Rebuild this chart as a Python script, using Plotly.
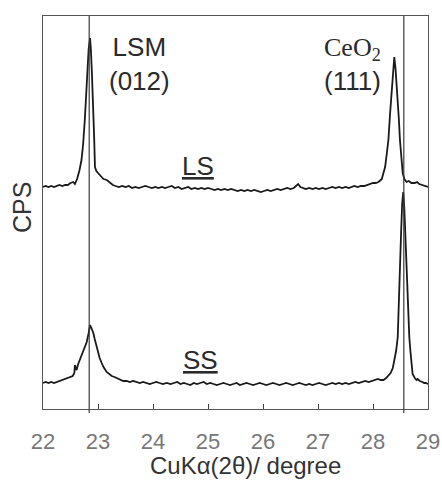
import plotly.graph_objects as go

# ---- data (arbitrary CPS units) ----
ls_x = [22.00, 22.05, 22.10, 22.15, 22.20, 22.25, 22.30, 22.35, 22.40, 22.45, 22.50, 22.55, 22.58, 22.62,
        22.66, 22.70, 22.73, 22.76, 22.78, 22.805, 22.83, 22.855, 22.87, 22.89, 22.90, 22.915, 22.93, 22.945,
        22.97, 23.00, 23.05, 23.10, 23.16, 23.22, 23.27, 23.32, 23.38, 23.44, 23.50, 23.56, 23.62, 23.68,
        23.74, 23.80, 23.86, 23.92, 23.98, 24.04, 24.10, 24.16, 24.22, 24.28, 24.34, 24.40, 24.46, 24.52,
        24.58, 24.64, 24.70, 24.76, 24.82, 24.88, 24.94, 25.00, 25.06, 25.12, 25.18, 25.24, 25.30, 25.36,
        25.42, 25.48, 25.54, 25.60, 25.66, 25.72, 25.78, 25.84, 25.90, 25.96, 26.02, 26.08, 26.14, 26.20,
        26.26, 26.32, 26.38, 26.44, 26.50, 26.56, 26.60, 26.64, 26.68, 26.72, 26.78, 26.84, 26.90, 26.96,
        27.02, 27.08, 27.14, 27.20, 27.26, 27.32, 27.38, 27.44, 27.50, 27.56, 27.62, 27.66, 27.72, 27.78,
        27.84, 27.90, 27.95, 28.00, 28.05, 28.10, 28.14, 28.16, 28.19, 28.22, 28.25, 28.28, 28.31, 28.34,
        28.36, 28.387, 28.41, 28.44, 28.47, 28.49, 28.52, 28.54, 28.57, 28.61, 28.65, 28.70, 28.76, 28.80,
        28.84, 28.90, 28.95, 29.00]
ls_y = [222, 223, 222, 223, 222, 223, 224, 223, 224, 224, 226, 227, 225, 230,
        238, 249, 265, 289, 312, 339, 360, 371, 360, 335, 322, 296, 272, 242,
        238, 236, 233, 230, 229, 226, 224, 223, 222, 223, 222, 223, 221, 222,
        221, 222, 223, 222, 221, 222, 221, 222, 221, 222, 223, 221, 222, 220,
        221, 222, 220, 221, 220, 221, 220, 221, 220, 219, 220, 219, 220, 219,
        220, 219, 218, 219, 218, 219, 218, 219, 218, 217, 218, 219, 218, 219,
        220, 219, 220, 221, 220, 221, 223, 225, 222, 221, 220, 221, 220, 221,
        220, 221, 220, 221, 222, 221, 222, 221, 222, 221, 222, 223, 222, 223,
        223, 224, 225, 226, 226, 227, 229, 230, 236, 242, 255, 269, 295, 319,
        338, 352, 340, 319, 290, 269, 250, 236, 230, 227, 228, 226, 226, 227,
        225, 224, 223, 222]

ss_x = [22.00, 22.05, 22.10, 22.15, 22.20, 22.25, 22.30, 22.35, 22.40, 22.45, 22.50, 22.54, 22.57, 22.58,
        22.60, 22.61, 22.64, 22.67, 22.70, 22.73, 22.76, 22.795, 22.83, 22.855, 22.88, 22.915, 22.94, 22.976,
        23.00, 23.03, 23.067, 23.10, 23.158, 23.20, 23.25, 23.30, 23.34, 23.40, 23.46, 23.52, 23.58, 23.64,
        23.70, 23.76, 23.82, 23.88, 23.94, 24.00, 24.06, 24.12, 24.18, 24.25, 24.32, 24.38, 24.44, 24.50,
        24.56, 24.62, 24.68, 24.74, 24.80, 24.86, 24.92, 24.98, 25.04, 25.10, 25.16, 25.22, 25.28, 25.34,
        25.40, 25.46, 25.52, 25.58, 25.64, 25.70, 25.76, 25.82, 25.88, 25.94, 26.00, 26.06, 26.12, 26.18,
        26.24, 26.30, 26.36, 26.42, 26.48, 26.54, 26.60, 26.66, 26.72, 26.78, 26.84, 26.90, 26.96, 27.02,
        27.08, 27.14, 27.20, 27.26, 27.32, 27.38, 27.44, 27.50, 27.56, 27.62, 27.68, 27.74, 27.80, 27.86,
        27.92, 27.98, 28.04, 28.09, 28.14, 28.19, 28.24, 28.28, 28.32, 28.36, 28.39, 28.42, 28.45, 28.47,
        28.49, 28.51, 28.53, 28.55, 28.57, 28.59, 28.613, 28.63, 28.66, 28.68, 28.705, 28.72, 28.76, 28.79,
        28.81, 28.85, 28.90, 28.93, 28.96, 29.00]
ss_y = [26, 27, 26, 27, 26, 27, 28, 29, 30, 31, 32, 33, 36, 44,
        40, 39, 45, 49, 54, 58, 62, 67, 76, 84, 81, 76, 70, 62,
        56, 51, 46, 42, 37, 35, 33, 32, 31, 30, 28, 28, 27, 28,
        27, 26, 27, 26, 25, 26, 27, 26, 25, 26, 25, 26, 27, 25,
        26, 25, 24, 26, 25, 26, 27, 25, 26, 25, 24, 25, 26, 25,
        24, 25, 26, 24, 25, 26, 25, 24, 25, 26, 25, 24, 25, 26,
        25, 24, 25, 26, 25, 24, 25, 26, 25, 24, 25, 24, 25, 26,
        25, 24, 25, 26, 25, 26, 25, 26, 25, 26, 27, 26, 27, 28,
        27, 28, 29, 30, 29, 29, 31, 33, 36, 41, 48, 58, 72, 100,
        139, 175, 205, 217, 200, 170, 139, 101, 72, 58, 39, 35, 31, 29,
        30, 28, 27, 26, 26, 25]

ref_lines = [22.84, 28.56]
x_ticks = [22, 23, 24, 25, 26, 27, 28, 29]

fig = go.Figure()
fig.add_trace(go.Scatter(x=ls_x, y=ls_y, mode="lines",
                         line=dict(color="#1a1a1a", width=1.8), showlegend=False))
fig.add_trace(go.Scatter(x=ss_x, y=ss_y, mode="lines",
                         line=dict(color="#1a1a1a", width=1.8), showlegend=False))

for xv in ref_lines:
    fig.add_shape(type="line", xref="x", yref="paper", x0=xv, x1=xv, y0=-0.01, y1=1,
                  line=dict(color="#3a3a3a", width=1.2))

ann_font = dict(family="Liberation Sans, Arial, sans-serif", size=26, color="#2a2a2a")
annots = [
    dict(x=22.0 + (139 - 43) / 55, y=409 - 64, text="LSM<br>(012)"),
    dict(x=22.0 + (352 - 43) / 55, y=409 - 64,
         text="<span style='font-family:Liberation Serif, DejaVu Serif, serif'>CeO<sub>2</sub></span><br>(111)"),
    dict(x=22.0 + (198 - 43) / 55, y=409 - 166, text="<u>LS</u>"),
    dict(x=22.0 + (200 - 43) / 55, y=409 - 360, text="<u>SS</u>"),
]
for a in annots:
    fig.add_annotation(xref="x", yref="y", showarrow=False, xanchor="center", yanchor="middle",
                       align="center", font=ann_font, **a)

# axis titles placed as paper annotations
title_font = dict(family="Liberation Sans, Arial, sans-serif", size=24, color="#333333")
fig.add_annotation(xref="paper", yref="paper", x=(246 - 43) / 385, y=(409 - 465) / 393,
                   text="CuKα(2θ)/ degree", showarrow=False, xanchor="center", yanchor="middle",
                   font=title_font)
fig.add_annotation(xref="paper", yref="paper", x=(22 - 43) / 385, y=(409 - 208) / 393,
                   text="CPS", textangle=-90, showarrow=False, xanchor="center", yanchor="middle",
                   font=dict(family="Liberation Sans, Arial, sans-serif", size=25, color="#333333"))

fig.update_layout(
    width=442, height=482,
    margin=dict(l=43, r=14, t=16, b=73),
    paper_bgcolor="white", plot_bgcolor="white",
    font=dict(family="Liberation Sans, Arial, sans-serif"),
    xaxis=dict(range=[22, 29], tickvals=x_ticks, ticks="inside", ticklen=5, tickcolor="#444",
               tickwidth=1.2, showline=True, linecolor="#555", linewidth=1.2, mirror=True,
               showgrid=False, zeroline=False, ticklabelstandoff=12, automargin=False,
               tickfont=dict(size=22, color="#787878")),
    yaxis=dict(range=[0, 393], showticklabels=False, ticks="", showline=True, linecolor="#555",
               linewidth=1.2, mirror=True, showgrid=False, zeroline=False, automargin=False),
)

fig.write_html("out.html", config={"displayModeBar": False},
               post_script="document.body.style.margin='0';document.body.style.overflow='hidden';")
